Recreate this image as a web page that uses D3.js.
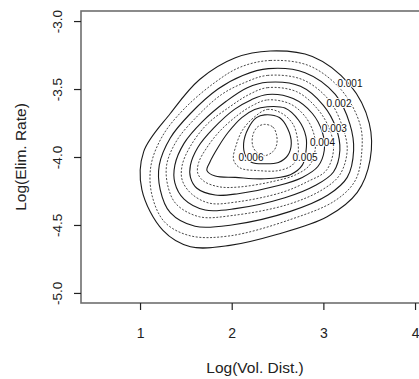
<!DOCTYPE html>
<html>
<head>
<meta charset="utf-8">
<script src="https://d3js.org/d3.v7.min.js"></script>
<style>
  body { margin: 0; background: #ffffff; }
  svg text { font-family: "Liberation Sans", Arial, Helvetica, sans-serif; }
</style>
</head>
<body>
<div id="plotContainer"></div>
<script>

// tick values of the axes
var xTicks = [1, 2, 3, 4];
var yTicks = [-5.0, -4.5, -4.0, -3.5, -3.0];

// contour levels, outside to inside
var levels = [0.001, 0.0015, 0.002, 0.0025, 0.003, 0.0035, 0.004, 0.0045, 0.005, 0.0055, 0.006, 0.0065];

// contour lines, [log vol. dist., log elim. rate]
var contour1 = [[2.04,-3.27],[2.42,-3.22],[2.88,-3.26],[3.29,-3.47],[3.50,-3.75],[3.51,-4.02],[3.37,-4.26],[3.04,-4.44],[2.49,-4.57],[1.98,-4.65],[1.55,-4.66],[1.25,-4.54],[1.02,-4.24],[1.04,-3.96],[1.33,-3.68],[1.65,-3.43]];
var contour2 = [[2.09,-3.34],[2.42,-3.29],[2.85,-3.33],[3.20,-3.51],[3.40,-3.76],[3.42,-3.95],[3.35,-4.17],[3.13,-4.32],[2.64,-4.46],[1.98,-4.58],[1.55,-4.58],[1.27,-4.48],[1.13,-4.28],[1.12,-4.06],[1.25,-3.84],[1.49,-3.64],[1.82,-3.45]];
var contour3 = [[2.12,-3.40],[2.40,-3.35],[2.80,-3.38],[3.13,-3.54],[3.29,-3.76],[3.33,-3.95],[3.26,-4.15],[3.05,-4.28],[2.64,-4.40],[2.00,-4.50],[1.60,-4.51],[1.33,-4.41],[1.22,-4.24],[1.21,-4.06],[1.33,-3.86],[1.55,-3.68],[1.85,-3.50]];
var contour4 = [[2.15,-3.45],[2.39,-3.40],[2.77,-3.43],[3.06,-3.58],[3.21,-3.78],[3.26,-3.95],[3.18,-4.13],[2.99,-4.24],[2.61,-4.35],[2.01,-4.43],[1.65,-4.44],[1.40,-4.35],[1.31,-4.23],[1.29,-4.06],[1.40,-3.88],[1.61,-3.71],[1.89,-3.54]];
var contour5 = [[2.17,-3.49],[2.39,-3.45],[2.75,-3.48],[3.00,-3.62],[3.14,-3.79],[3.18,-3.95],[3.11,-4.11],[2.91,-4.21],[2.58,-4.30],[2.04,-4.38],[1.71,-4.39],[1.48,-4.31],[1.38,-4.19],[1.38,-4.06],[1.48,-3.90],[1.68,-3.74],[1.94,-3.59]];
var contour6 = [[2.19,-3.54],[2.39,-3.49],[2.71,-3.52],[2.94,-3.65],[3.07,-3.80],[3.11,-3.95],[3.03,-4.10],[2.83,-4.18],[2.55,-4.26],[2.06,-4.33],[1.76,-4.34],[1.56,-4.27],[1.46,-4.17],[1.46,-4.06],[1.55,-3.92],[1.73,-3.76],[1.98,-3.63]];
var contour7 = [[2.21,-3.58],[2.39,-3.54],[2.67,-3.57],[2.88,-3.68],[2.99,-3.82],[3.01,-3.95],[2.94,-4.07],[2.77,-4.15],[2.51,-4.21],[2.07,-4.27],[1.82,-4.28],[1.62,-4.23],[1.55,-4.15],[1.55,-4.06],[1.63,-3.93],[1.80,-3.79],[2.03,-3.65]];
var contour8 = [[2.23,-3.62],[2.39,-3.58],[2.64,-3.61],[2.81,-3.71],[2.90,-3.84],[2.91,-3.95],[2.85,-4.06],[2.70,-4.13],[2.45,-4.18],[2.09,-4.22],[1.87,-4.22],[1.70,-4.18],[1.63,-4.12],[1.64,-4.04],[1.73,-3.93],[1.87,-3.81],[2.07,-3.69]];
var contour9 = [[2.25,-3.65],[2.39,-3.63],[2.58,-3.64],[2.73,-3.73],[2.81,-3.85],[2.81,-3.96],[2.77,-4.06],[2.64,-4.13],[2.36,-4.16],[2.04,-4.15],[1.82,-4.14],[1.73,-4.10],[1.76,-4.04],[1.85,-3.93],[1.96,-3.82],[2.11,-3.71]];
var contour10 = [[2.24,-3.71],[2.39,-3.65],[2.55,-3.68],[2.67,-3.76],[2.72,-3.88],[2.72,-3.99],[2.66,-4.06],[2.51,-4.10],[2.29,-4.10],[2.09,-4.08],[2.02,-4.02],[2.05,-3.91],[2.12,-3.80]];
var contour11 = [[2.27,-3.71],[2.36,-3.69],[2.52,-3.71],[2.61,-3.79],[2.65,-3.90],[2.61,-3.99],[2.51,-4.04],[2.36,-4.05],[2.22,-4.04],[2.15,-3.99],[2.13,-3.90],[2.18,-3.79]];
var contour12 = [[2.36,-3.76],[2.45,-3.78],[2.49,-3.84],[2.49,-3.91],[2.45,-3.96],[2.36,-3.99],[2.28,-3.97],[2.23,-3.92],[2.23,-3.84],[2.28,-3.78]];

// the labelled levels and where their labels sit
var labelText = ["0.001", "0.002", "0.003", "0.004", "0.005", "0.006"];
var labelX = [3.29, 3.17, 3.12, 2.99, 2.80, 2.21];
var labelY = [-3.46, -3.61, -3.79, -3.89, -4.00, -4.00];

var contours = [contour1, contour2, contour3, contour4, contour5, contour6,
                contour7, contour8, contour9, contour10, contour11, contour12];

var breedte = 419;
var hoogte = 379;

// plot region of the frame
var marge = {boven: 11, links: 81};
var frameRechts = 440;
var frameBeneden = 303;

var svg = d3.select("#plotContainer")
            .append("svg")
            .attr("width", breedte)
            .attr("height", hoogte);

// scales, frame runs a little past the data range like R does
var x = d3.scaleLinear()
          .domain([0.356, 4.25])
          .range([marge.links, marge.links + 3.894 * 91.67]);

var y = d3.scaleLinear()
          .domain([-5.074, -2.926])
          .range([frameBeneden, marge.boven]);

// contour lines
var lijn = d3.line()
             .x(function(d) { return x(d[0]); })
             .y(function(d) { return y(d[1]); })
             .curve(d3.curveCatmullRomClosed.alpha(0.5));

svg.selectAll(".contour")
   .data(contours)
   .enter()
   .append("path")
   .attr("class", "contour")
   .attr("d", lijn)
   .attr("fill", "none")
   .attr("stroke", function(d, i) { return i % 2 == 0 ? "#1a1a1a" : "#333333"; })
   .attr("stroke-width", function(d, i) { return i % 2 == 0 ? 1.1 : 0.9; })
   .attr("stroke-dasharray", function(d, i) { return i % 2 == 0 ? null : "2,1.6"; });

// contour labels
svg.selectAll(".niveau")
   .data(labelText)
   .enter()
   .append("text")
   .attr("class", "niveau")
   .attr("x", function(d, i) { return x(labelX[i]); })
   .attr("y", function(d, i) { return y(labelY[i]); })
   .attr("dy", "0.35em")
   .attr("text-anchor", "middle")
   .attr("font-size", "10px")
   .attr("fill", "#111")
   .attr("stroke", "#fff")
   .attr("stroke-width", 2)
   .attr("paint-order", "stroke")
   .text(function(d) { return d; });

// frame
svg.append("rect")
   .attr("x", marge.links)
   .attr("y", marge.boven)
   .attr("width", frameRechts - marge.links)
   .attr("height", frameBeneden - marge.boven)
   .attr("fill", "none")
   .attr("stroke", "#6e6e6e")
   .attr("stroke-width", 1.6);

// x axis
var asX = d3.axisBottom(x)
            .tickValues(xTicks)
            .tickSize(7)
            .tickPadding(18)
            .tickFormat(d3.format("d"));

var gx = svg.append("g")
            .attr("class", "xAs")
            .attr("transform", "translate(0," + frameBeneden + ")")
            .call(asX);
gx.select(".domain").remove();
gx.selectAll("line").attr("stroke", "#222").attr("stroke-width", 1.2);
gx.selectAll("text")
  .attr("font-size", "14px")
  .attr("fill", "#222");

// y axis with rotated labels
var asY = d3.axisLeft(y)
            .tickValues(yTicks)
            .tickSize(7)
            .tickFormat(d3.format(".1f"));

var gy = svg.append("g")
            .attr("class", "yAs")
            .attr("transform", "translate(" + marge.links + ",0)")
            .call(asY);
gy.select(".domain").remove();
gy.selectAll("line").attr("stroke", "#222").attr("stroke-width", 1.2);
gy.selectAll("text")
  .attr("x", null)
  .attr("dy", null)
  .attr("transform", "translate(-19.5,0) rotate(-90)")
  .attr("text-anchor", "middle")
  .attr("font-size", "13.5px")
  .attr("fill", "#222")
  .text(function(d) { return d3.format(".1f")(d).replace("−", "-"); });

// axis titles
svg.append("text")
   .attr("x", 255)
   .attr("y", 373)
   .attr("text-anchor", "middle")
   .attr("font-size", "15.5px")
   .attr("fill", "#222")
   .text("Log(Vol. Dist.)");

svg.append("text")
   .attr("transform", "translate(26,157) rotate(-90)")
   .attr("text-anchor", "middle")
   .attr("font-size", "15.5px")
   .attr("fill", "#222")
   .text("Log(Elim. Rate)");

</script>
</body>
</html>
